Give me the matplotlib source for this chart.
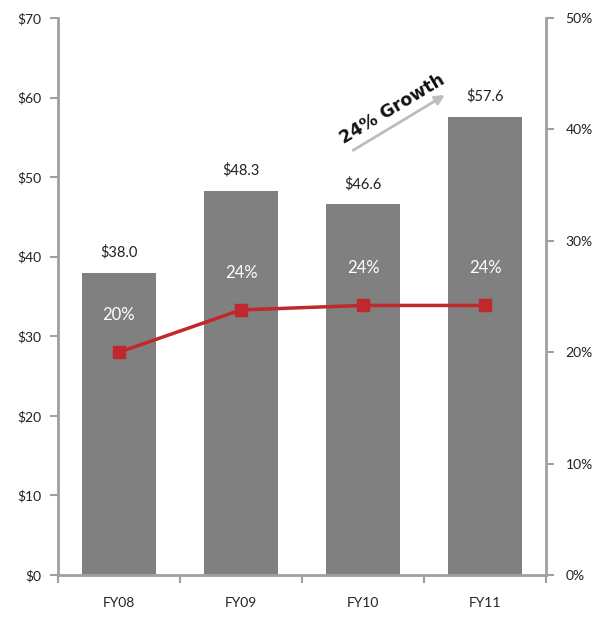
import matplotlib
matplotlib.use("Agg")
import matplotlib.pyplot as plt
import numpy as np

years = ["FY08", "FY09", "FY10", "FY11"]
revenue = [38.0, 48.3, 46.6, 57.6]          # $ values (left axis)
margin = [20.0, 23.8, 24.2, 24.2]           # % values (right axis)
growth_text = "24% Growth"

plt.rcParams["font.family"] = ["Lato", "DejaVu Sans"]

fig = plt.figure(figsize=(6.01, 6.21), dpi=100)
ax = fig.add_axes([0.0965, 0.074, 0.812, 0.897])
x = np.arange(len(years))

spine_col = "#a0a0a0"
ax.bar(x, revenue, width=0.6, color="#808080", zorder=2)
ax.set_xlim(-0.5, len(years) - 0.5)
ax.set_ylim(0, 70)
ax.set_yticks(np.arange(0, 71, 10))
ax.set_yticklabels([f"${v}" for v in range(0, 71, 10)])

# category separators as major ticks, labels on minor ticks
ax.set_xticks(np.arange(-0.5, len(years), 1.0))
ax.set_xticklabels([])
ax.set_xticks(x, minor=True)
ax.set_xticklabels(years, minor=True)
ax.tick_params(axis="x", which="minor", length=0, pad=16, labelsize=10, colors="#222222")
ax.tick_params(axis="x", which="major", length=6, width=1.5, color=spine_col)
ax.tick_params(axis="y", length=6, width=1.5, color=spine_col, labelsize=10,
               labelcolor="#222222", pad=6)

for s in ["top", "right"]:
    ax.spines[s].set_visible(False)
for s in ["left", "bottom"]:
    ax.spines[s].set_color(spine_col)
    ax.spines[s].set_linewidth(2)

for xi, v in zip(x, revenue):
    ax.text(xi, v + 1.6, f"${v:.1f}", ha="center", va="bottom", fontsize=10.5, color="#222222")

ax2 = ax.twinx()
ax2.set_ylim(0, 50)
ax2.set_yticks(np.arange(0, 51, 10))
ax2.set_yticklabels([f"{v}%" for v in range(0, 51, 10)])
ax2.tick_params(axis="y", length=6, width=1.5, color=spine_col, labelsize=10,
                labelcolor="#222222", pad=8)
for s in ["top", "left", "bottom"]:
    ax2.spines[s].set_visible(False)
ax2.spines["right"].set_color(spine_col)
ax2.spines["right"].set_linewidth(2)

ax2.plot(x, margin, color="#c0282d", lw=2.5, marker="s", markersize=8, zorder=3)
for xi, m in zip(x, margin):
    ax2.text(xi, m + 2.6, f"{m:.0f}%", ha="center", va="bottom", fontsize=12, color="white")

# growth arrow with rotated caption
ax.annotate("", xy=(2.69, 60.5), xytext=(1.9, 53.2),
            arrowprops=dict(arrowstyle="-|>", color="#bdbdbd", lw=2, mutation_scale=14))
ax.text(2.24, 58.6, growth_text, rotation=31, ha="center", va="center",
        fontsize=12.5, fontweight="black", color="#111111",
        family=["DejaVu Sans"])

fig.savefig("out.png", dpi=100)
